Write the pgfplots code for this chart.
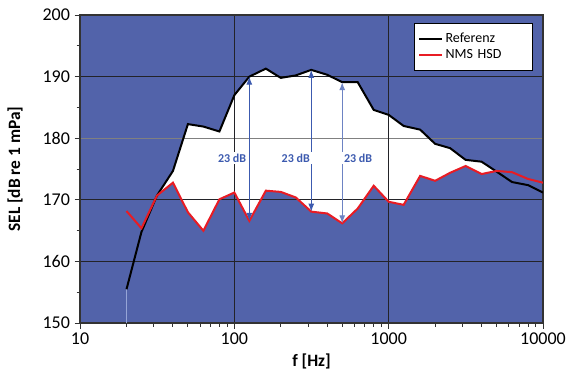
\documentclass[border=0pt]{standalone}
\usepackage{fontspec}
\setmainfont{Carlito}
\usepackage{pgfplots}
\usepackage{pgfplotstable}
\pgfplotsset{compat=1.18}
\usetikzlibrary{arrows.meta}
\definecolor{bgblue}{RGB}{82,99,170}
\definecolor{arrblue}{RGB}{60,90,175}
\definecolor{lblue}{RGB}{150,165,215}
\definecolor{myred}{RGB}{232,28,36}
\definecolor{gridgray}{RGB}{128,128,128}
\definecolor{griddark}{RGB}{35,35,40}
\pgfdeclarelayer{axis fill}
\pgfplotsset{layers/mylayers/.define layer set={axis background,axis fill,axis grid,axis ticks,axis lines,axis tick labels,pre main,main,axis descriptions,axis foreground}{}}

\pgfplotstableread{
f v
20 155.5
25 164.8
31.5 170.7
40 174.7
50 182.3
63 181.9
80 181.1
100 187.0
125 190.0
160 191.3
200 189.8
250 190.2
315 191.1
400 190.3
500 189.1
630 189.1
800 184.6
1000 183.8
1250 182.0
1600 181.4
2000 179.1
2500 178.4
3150 176.5
4000 176.2
5000 174.6
6300 172.9
8000 172.4
10000 171.2
}\refdata

\pgfplotstableread{
f v
20 168.2
25 165.4
31.5 170.7
40 172.8
50 168.0
63 165.0
80 170.1
100 171.2
125 166.6
160 171.5
200 171.3
250 170.4
315 168.1
400 167.8
500 166.2
630 168.6
800 172.3
1000 169.7
1250 169.2
1600 173.9
2000 173.1
2500 174.4
3150 175.5
4000 174.2
5000 174.7
6300 174.5
8000 173.4
10000 172.8
}\nmsdata

\begin{document}
\begin{tikzpicture}
\begin{axis}[
  set layers=mylayers,
  scale only axis, width=347pt, height=231pt,
  xmode=log, xmin=10, xmax=10000, ymin=150, ymax=200,
  xtick={10,100,1000,10000}, xticklabels={10,100,1000,10000},
  ytick={150,160,170,190,200},
  extra y ticks={180},
  extra y tick style={grid=none},
  minor ytick={155,165,175,185,195},
  tick align=outside, tick pos=left,
  major tick length=4pt, minor tick length=2.5pt,
  tick style={black!80, line width=0.7pt},
  grid=major,
  major grid style={draw=griddark, line width=0.8pt},
  axis line style={black!80, line width=1.1pt},
  /pgf/number format/assume math mode=true,
  ticklabel style={font=\fontsize{13.5}{16}\selectfont},
  xlabel={f [Hz]}, ylabel={SEL [dB re 1 mPa]},
  label style={font=\bfseries\fontsize{13}{15}\selectfont},
  legend style={at={(0.978,0.974)}, anchor=north east, draw=black, line width=0.8pt,
    fill=white, font=\fontsize{10.5}{12}\selectfont, inner xsep=3pt, inner ysep=5pt,
    row sep=0pt, cells={anchor=west},
    /tikz/every even column/.append style={text width=60pt}},
  legend image post style={line width=1.5pt},
]
\addplot[draw=none, fill=bgblue, on layer=axis fill, forget plot] coordinates {(10,150) (10000,150) (10000,200) (10,200)} -- cycle;
\addplot[draw=none, fill=white, on layer=axis fill, forget plot] table[x=f,y=v] {\refdata} \closedcycle;
\addplot[draw=none, fill=bgblue, on layer=axis fill, forget plot] table[x=f,y=v] {\nmsdata} \closedcycle;
\addplot[gridgray, line width=1pt, on layer=axis grid, forget plot] coordinates {(10,180) (10000,180)};
\addplot[lblue, line width=0.8pt, forget plot] coordinates {(20,150) (20,155.5)};
\addplot[black, line width=1.5pt] table[x=f,y=v] {\refdata};
\addlegendentry{Referenz}
\addplot[myred, line width=1.5pt] table[x=f,y=v] {\nmsdata};
\addlegendentry{NMS HSD}

\draw[arrblue, line width=0.8pt, {Latex[length=6pt,width=4.5pt]}-{Latex[length=6pt,width=4.5pt]}] (axis cs:125,166.6) -- (axis cs:125,190.0);
\draw[arrblue, line width=0.8pt, {Latex[length=6pt,width=4.5pt]}-{Latex[length=6pt,width=4.5pt]}] (axis cs:315,168.1) -- (axis cs:315,191.1);
\draw[arrblue!75, line width=0.8pt, {Latex[length=6pt,width=4.5pt]}-{Latex[length=6pt,width=4.5pt]}] (axis cs:500,166.2) -- (axis cs:500,189.1);
\node[fill=white, text=arrblue, font=\bfseries\fontsize{9}{10}\selectfont, inner sep=1.5pt] at (axis cs:96.6,176.8) {23 dB};
\node[fill=white, text=arrblue, font=\bfseries\fontsize{9}{10}\selectfont, inner sep=1.5pt] at (axis cs:250,176.8) {23 dB};
\node[fill=white, text=arrblue, font=\bfseries\fontsize{9}{10}\selectfont, inner sep=1.5pt] at (axis cs:634,176.8) {23 dB};
\end{axis}
\pgfresetboundingbox
\path[use as bounding box] ([xshift=-60pt,yshift=-38.25pt]current axis.south west) rectangle ([xshift=22.5pt,yshift=11.25pt]current axis.north east);
\end{tikzpicture}
\end{document}
